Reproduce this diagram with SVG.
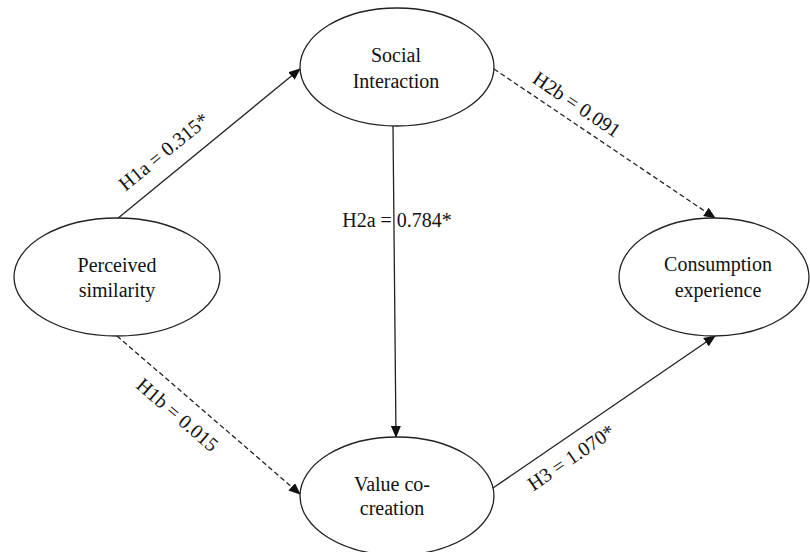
<svg xmlns="http://www.w3.org/2000/svg" width="810" height="552" viewBox="0 0 810 552">
<style>
.node ellipse{fill:#fff;stroke:#222;stroke-width:1.3}
text{font-family:"Liberation Serif","Times New Roman",serif;font-size:20px;fill:#111;text-anchor:middle}
.edge{stroke:#222;stroke-width:1.3;fill:none}
.dash{stroke-dasharray:5 3}
</style>
<defs>
<marker id="arr" markerWidth="12" markerHeight="10" refX="11" refY="5" orient="auto" markerUnits="userSpaceOnUse">
<path d="M0,0 L12,5 L0,10 Z" fill="#111"/>
</marker>
</defs>
<rect width="810" height="552" fill="#fff"/>
<g id="connectors">
<line class="edge" x1="117" y1="219" x2="300" y2="69" marker-end="url(#arr)"/>
<line class="edge" x1="393" y1="126" x2="396" y2="437" marker-end="url(#arr)"/>
<line class="edge dash" x1="494" y1="69" x2="715" y2="218" marker-end="url(#arr)"/>
<line class="edge dash" x1="117" y1="336" x2="300" y2="494" marker-end="url(#arr)"/>
<line class="edge" x1="493" y1="488" x2="715" y2="336" marker-end="url(#arr)"/>
<text transform="translate(168,157) rotate(-39.3)">H1a = 0.315*</text>
<text x="397" y="227">H2a = 0.784*</text>
<text transform="translate(573,110) rotate(34)">H2b = 0.091</text>
<text transform="translate(173,420) rotate(40.8)">H1b = 0.015</text>
<text transform="translate(575,463) rotate(-34.4)">H3 = 1.070*</text>
</g>
<g id="social" class="node">
<ellipse cx="397" cy="67" rx="97" ry="59"/>
<text x="396" y="62">Social</text>
<text x="396" y="88">Interaction</text>
</g>
<g id="perceived" class="node">
<ellipse cx="117" cy="277" rx="103" ry="59"/>
<text x="117" y="272">Perceived</text>
<text x="117" y="297">similarity</text>
</g>
<g id="consumption" class="node">
<ellipse cx="714" cy="277" rx="95" ry="59"/>
<text x="718" y="271">Consumption</text>
<text x="718" y="297">experience</text>
</g>
<g id="value" class="node">
<ellipse cx="397" cy="496" rx="97" ry="59"/>
<text x="392" y="491">Value co-</text>
<text x="392" y="515">creation</text>
</g>
</svg>
